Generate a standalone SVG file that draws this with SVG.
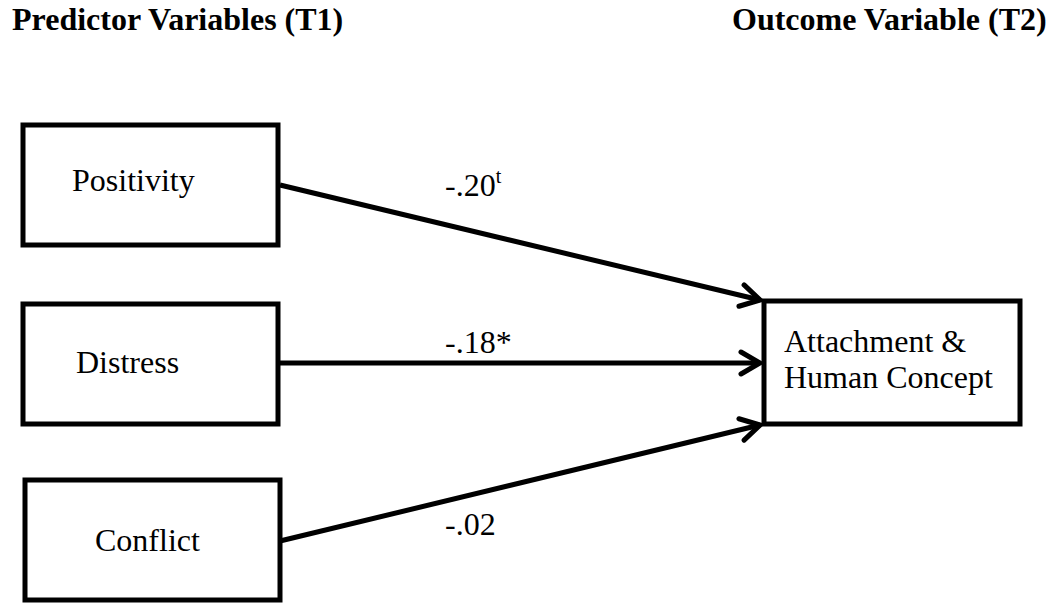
<svg xmlns="http://www.w3.org/2000/svg" width="1063" height="604" viewBox="0 0 1063 604">
<style>
.box{fill:#fff;stroke:#000;stroke-width:5}
.t{font-family:'Liberation Serif','Times New Roman',serif;font-size:32px;fill:#000}
.h{font-family:'Liberation Serif','Times New Roman',serif;font-size:32px;font-weight:bold;fill:#000}
.c{stroke:#000;stroke-width:5;fill:none}
</style>
<defs>
<marker id="arr" markerUnits="userSpaceOnUse" markerWidth="30" markerHeight="30" refX="24" refY="12" orient="auto" viewBox="0 0 30 24">
<path d="M5,1 L24,12 L5,23" fill="none" stroke="#000" stroke-width="5" stroke-linecap="round" stroke-linejoin="miter"/>
</marker>
</defs>
<rect width="1063" height="604" fill="#fff"/>
<text class="h" x="12" y="30">Predictor Variables (T1)</text>
<text class="h" x="732" y="30">Outcome Variable (T2)</text>
<g id="connectors">
<line class="c" x1="280" y1="185" x2="760" y2="300" marker-end="url(#arr)"/>
<line class="c" x1="280" y1="363" x2="760" y2="363" marker-end="url(#arr)"/>
<line class="c" x1="280" y1="541" x2="760" y2="425" marker-end="url(#arr)"/>
<text class="t" x="445" y="196">-.20<tspan font-size="20" dy="-13">t</tspan></text>
<text class="t" x="445" y="353">-.18*</text>
<text class="t" x="445" y="535">-.02</text>
</g>
<g id="positivity">
<rect class="box" x="23" y="125" width="255" height="120"/>
<text class="t" x="72" y="191">Positivity</text>
</g>
<g id="distress">
<rect class="box" x="23" y="304" width="255" height="120"/>
<text class="t" x="76" y="373">Distress</text>
</g>
<g id="conflict">
<rect class="box" x="25" y="480" width="255" height="120"/>
<text class="t" x="95" y="551">Conflict</text>
</g>
<g id="attachment">
<rect class="box" x="764" y="301" width="256" height="123"/>
<text class="t" x="784" y="352">Attachment &amp;</text>
<text class="t" x="784" y="388">Human Concept</text>
</g>
</svg>
